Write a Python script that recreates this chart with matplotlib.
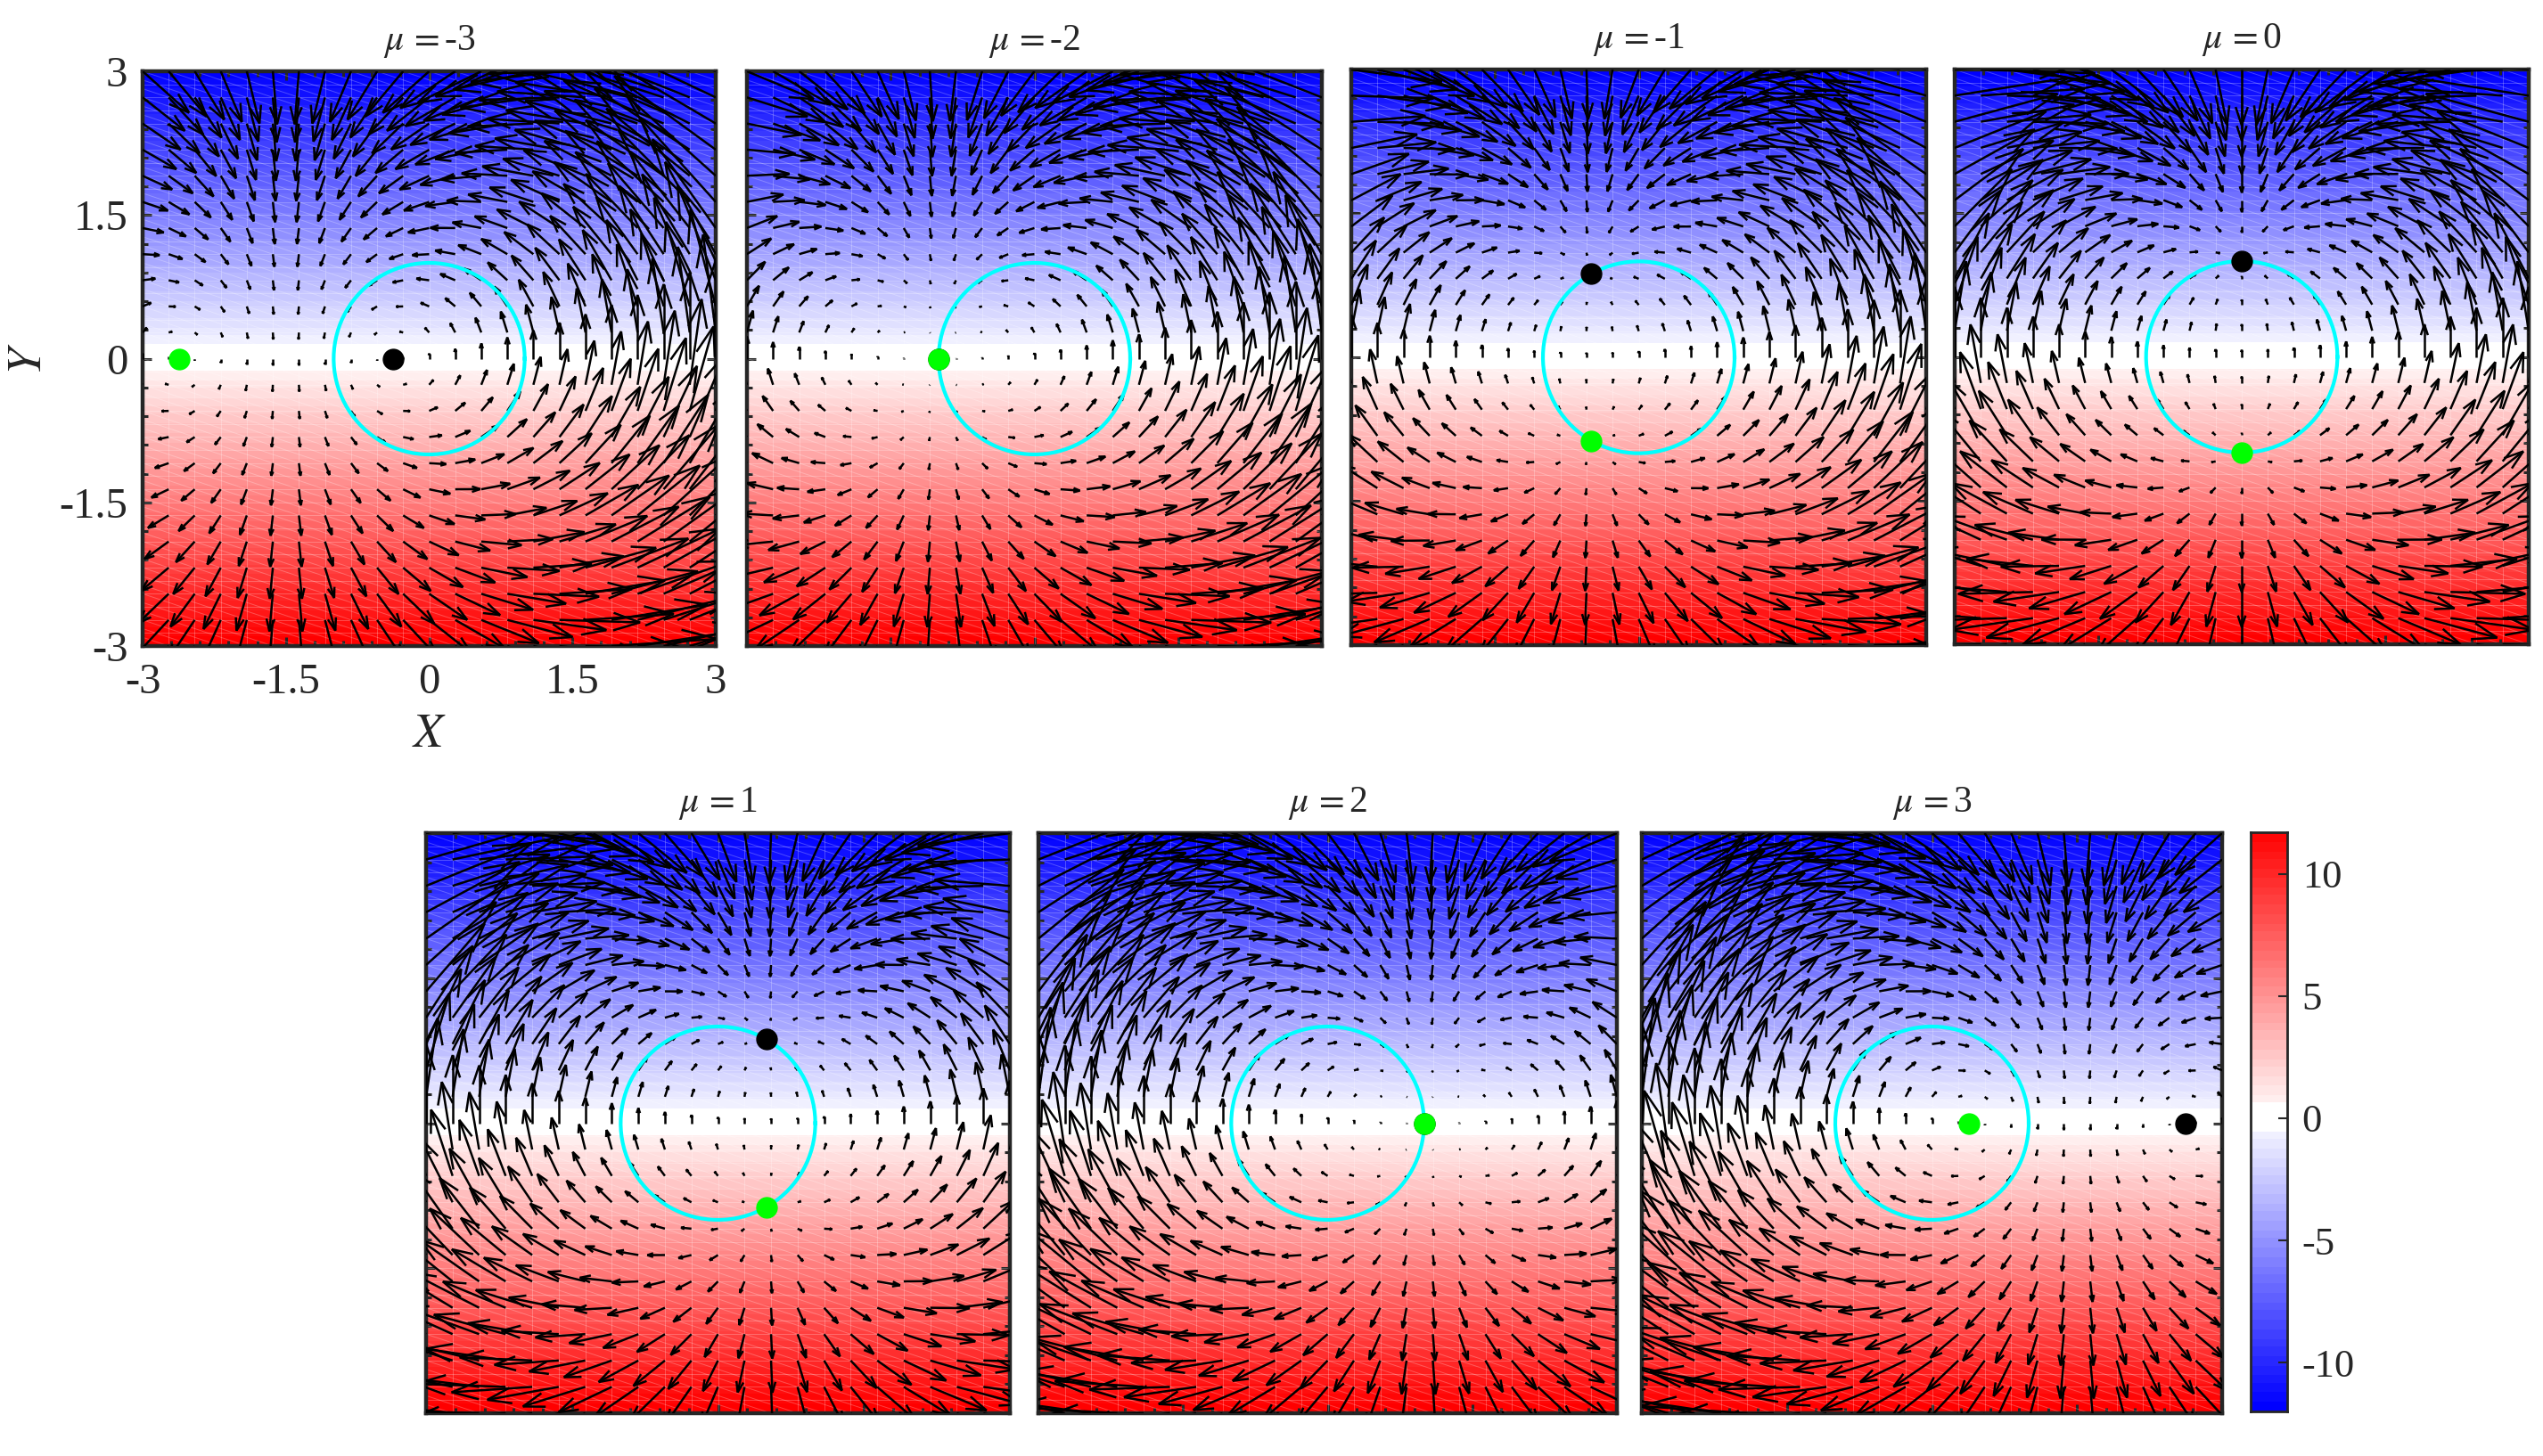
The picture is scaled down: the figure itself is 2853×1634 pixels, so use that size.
import numpy as np
import matplotlib
matplotlib.use('Agg')
import matplotlib.pyplot as plt
from matplotlib.collections import LineCollection
from matplotlib.colors import ListedColormap, LinearSegmentedColormap

plt.rcParams['font.family'] = ['Liberation Serif', 'DejaVu Serif']
plt.rcParams['mathtext.fontset'] = 'stix'

W, H = 2853, 1634
DARK = '#262626'

# values
mu_values = [-3, -2, -1, 0, 1, 2, 3]
black_x = [-0.38, -1.0, -0.5, 0.0, 0.5, 1.0, 2.62]
black_y = [0.0, 0.0, 0.87, 1.0, 0.87, 0.0, 0.0]
green_x = [-2.62, -1.0, -0.5, 0.0, 0.5, 1.0, 0.38]
green_y = [0.0, 0.0, -0.87, -1.0, -0.87, 0.0, 0.0]
axis_ticks = [-3, -1.5, 0, 1.5, 3]
axis_tick_labels = ['-3', '-1.5', '0', '1.5', '3']
cbar_ticks = [-10, -5, 0, 5, 10]
cbar_tick_labels = ['-10', '-5', '0', '5', '10']
color_min, color_max = -12, 11.7

# arrow length per unit of field, measured panel by panel (quiver autoscale differs)
arrow_scale = [0.054, 0.058, 0.063, 0.073, 0.063, 0.058, 0.054]

# panel boxes in pixels: left, right, top, bottom
boxes = [
    (160, 803, 80, 725),
    (838, 1483, 80, 725),
    (1516, 2161, 78, 724),
    (2193, 2837, 78, 723),
    (478, 1133, 935, 1586),
    (1165, 1814, 935, 1586),
    (1842, 2493, 935, 1586),
]
cbar_box = (2525, 2566, 934, 1584)


def make_axes(fig, box):
    left, right, top, bottom = box
    return fig.add_axes([left / W, 1 - bottom / H, (right - left) / W, (bottom - top) / H])


def field(x, y, mu):
    # field inferred from the arrows and the fixed points, not read arrow by arrow
    u = -(2 * x - mu) * y
    v = x ** 2 - y ** 2 - mu * x + 1
    return u, v


def arrow_segments(x, y, u, v, scale, alpha=0.33, beta=0.33):
    # open MATLAB style heads: shaft plus two barbs
    x, y, u, v = x.ravel(), y.ravel(), u.ravel() * scale, v.ravel() * scale
    tx, ty = x + u, y + v
    segs = []
    for i in range(len(x)):
        segs.append([(x[i], y[i]), (tx[i], ty[i])])
        segs.append([(tx[i] - alpha * (u[i] + beta * v[i]), ty[i] - alpha * (v[i] - beta * u[i])),
                     (tx[i], ty[i]),
                     (tx[i] - alpha * (u[i] - beta * v[i]), ty[i] - alpha * (v[i] + beta * u[i]))])
    return segs


def mesh_lines(gx):
    # the faint seams of the patch mesh that show through the reference background
    step = gx[1] - gx[0]
    segs = [[(g, -3), (g, 3)] for g in gx]
    segs += [[(-3, g), (3, g)] for g in np.arange(-3, 3.01, step / 2)]
    for a, b in zip(gx[:-1], gx[1:]):
        for y0 in np.arange(-3 + step / 3, 3.01, step / 3):
            segs.append([(a, y0), (b, y0 - step / 3)])
    return segs


base = LinearSegmentedColormap.from_list('bwr', ['#0000ff', '#ffffff', '#ff0000'])
colors = base(np.linspace(0, 1, 65))
colors[31:34] = [1, 1, 1, 1]
cmap = ListedColormap(colors)

fig = plt.figure(figsize=(W / 100, H / 100), dpi=100)

gx = np.linspace(-3, 3, 23)
X, Y = np.meshgrid(gx, gx)
rows = np.linspace(-3, 3, 241)
BX, BY = np.meshgrid(np.array([-3, 3]), rows)

for i, mu in enumerate(mu_values):
    ax = make_axes(fig, boxes[i])
    ax.pcolormesh(BX, BY, (-4 * BY)[:-1, :-1], cmap=cmap, vmin=-12, vmax=12, shading='flat')
    ax.add_collection(LineCollection(mesh_lines(gx), colors='w', linewidths=0.7, alpha=0.25, zorder=2))
    U, V = field(X, Y, mu)
    arrows = LineCollection(arrow_segments(X, Y, U, V, arrow_scale[i]), colors='k', linewidths=1.8, zorder=3,
                            capstyle='butt', joinstyle='miter')
    ax.add_collection(arrows)
    t = np.linspace(0, 2 * np.pi, 200)
    ax.plot(np.cos(t), np.sin(t), color='#00ffff', lw=3, zorder=4)
    ax.plot(black_x[i], black_y[i], 'o', color='k', ms=16.5, zorder=5)
    ax.plot(green_x[i], green_y[i], 'o', color='#00ff00', ms=16.5, zorder=6)
    ax.set_xlim(-3, 3)
    ax.set_ylim(-3, 3)
    ax.set_xticks(axis_ticks)
    ax.set_yticks(axis_ticks)
    ax.set_xticks(np.arange(-3, 3.01, 0.3), minor=True)
    ax.set_yticks(np.arange(-3, 3.01, 0.3), minor=True)
    ax.tick_params(which='major', direction='in', top=True, right=True, length=7, width=2.2, color=DARK)
    ax.tick_params(which='minor', direction='in', top=True, right=True, length=4, width=2.2, color=DARK)
    for s in ax.spines.values():
        s.set_linewidth(3.2)
        s.set_color(DARK)
    if i == 0:
        ax.set_xticklabels(axis_tick_labels, fontsize=35, color=DARK)
        ax.set_yticklabels(axis_tick_labels, fontsize=35, color=DARK)
        ax.tick_params(axis='x', which='major', pad=14)
        ax.tick_params(axis='y', which='major', pad=12)
        ax.set_xlabel('$X$', fontsize=39, color=DARK, labelpad=8)
        ax.set_ylabel('$Y$', fontsize=39, color=DARK, labelpad=6)
    else:
        ax.set_xticklabels([])
        ax.set_yticklabels([])
    ax.set_title(r'$\mu\,=$' + str(mu), fontsize=30, color=DARK, pad=17)

cax = make_axes(fig, cbar_box)
levels = np.linspace(color_min, color_max, 241)
cax.pcolormesh(np.array([0, 1]), levels, levels[:-1].reshape(-1, 1), cmap=cmap, vmin=-12, vmax=12, shading='flat')
cax.set_xticks([])
cax.yaxis.tick_right()
cax.set_yticks(cbar_ticks)
cax.set_yticklabels(cbar_tick_labels, fontsize=32, color=DARK)
cax.tick_params(axis='y', direction='in', length=7, width=1.5, color=DARK, pad=12)
for s in cax.spines.values():
    s.set_linewidth(2)
    s.set_color(DARK)

fig.savefig('out.png', dpi=100)
